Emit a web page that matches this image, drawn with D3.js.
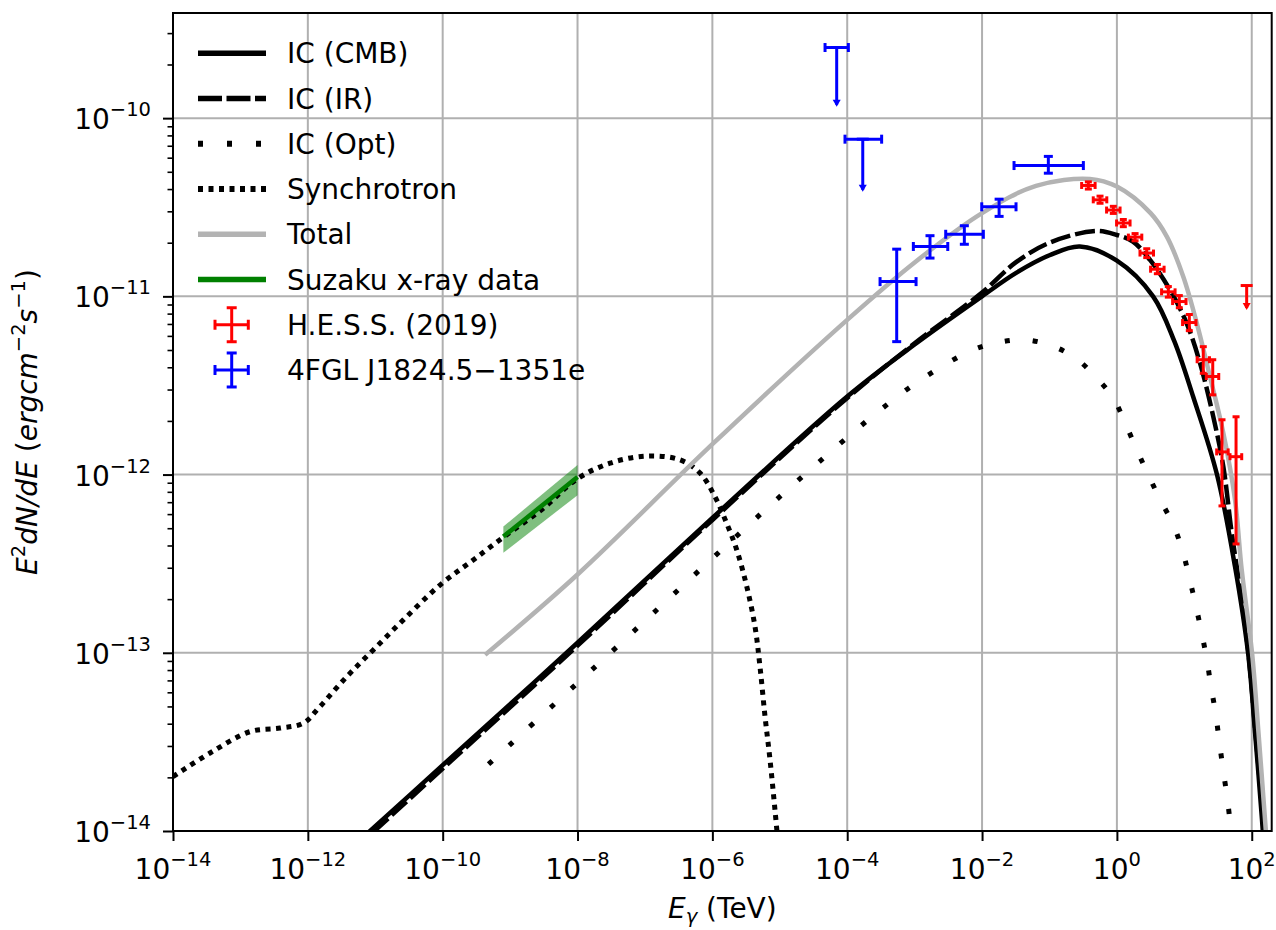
<!DOCTYPE html>
<html>
<head>
<meta charset="utf-8">
<script src="https://cdn.jsdelivr.net/npm/d3@7"></script>
<style>
  body { margin: 0; background: #fff; }
  text { font-family: "DejaVu Sans", sans-serif; fill: #000; }
</style>
</head>
<body>
<div id="chart"></div>
<script>
// ---- data (E in TeV, E^2 dN/dE in erg cm^-2 s^-1) ----
const cmbE = [5.0e-12, 1e-10, 1e-8, 1e-6, 1e-4, 1e-3, 1e-2, 3.16e-2, 0.1, 0.282, 1, 3.44, 7.08, 13.5, 30.5, 56.5, 88.1, 112, 142, 158];
const cmbF = [8.39e-15, 2.34e-14, 1.138e-13, 5.71e-13, 2.74e-12, 5.37e-12, 1.0e-11, 1.35e-11, 1.70e-11, 1.905e-11, 1.585e-11, 1.0e-11, 5.62e-12, 2.74e-12, 1.0e-12, 3.04e-13, 1.0e-13, 3.56e-14, 1.156e-14, 6.3e-15];

const irE = [5.0e-12, 1e-10, 1e-8, 1e-6, 1e-4, 1e-3, 1e-2, 3.16e-2, 0.1, 0.501, 1, 1.73, 3.10, 6.14, 10.8, 17.1, 26.9, 37.9, 50.5, 67.6, 88.1, 112, 145, 158];
const irF = [7.94e-15, 2.24e-14, 1.096e-13, 5.56e-13, 2.69e-12, 5.45e-12, 1.05e-11, 1.55e-11, 2.00e-11, 2.33e-11, 2.21e-11, 2.03e-11, 1.60e-11, 1.086e-11, 7.08e-12, 4.22e-12, 2.11e-12, 1.109e-12, 4.69e-13, 2.24e-13, 1.047e-13, 3.80e-14, 1.20e-14, 7.08e-15];

const optE = [4.79e-10, 3.14e-8, 1.01e-6, 1.68e-5, 2.90e-4, 1.35e-3, 7.03e-3, 1.74e-2, 4.34e-2, 0.110, 0.254, 0.501, 0.885, 1.36, 2.01, 2.92, 4.47, 6.87, 9.48, 11.9, 14.7, 17.9, 21.5, 24.9, 29.2, 33.0, 37.5, 43.0, 48.2, 52.5];
const optF = [2.37e-14, 1.007e-13, 3.40e-13, 8.95e-13, 2.26e-12, 3.48e-12, 4.97e-12, 5.51e-12, 5.70e-12, 5.27e-12, 4.45e-12, 3.48e-12, 2.69e-12, 1.90e-12, 1.36e-12, 9.95e-13, 7.14e-13, 5.22e-13, 3.70e-13, 2.62e-13, 1.86e-13, 1.315e-13, 9.25e-14, 6.46e-14, 4.54e-14, 3.18e-14, 2.23e-14, 1.56e-14, 1.096e-14, 8.3e-15];

const synE = [1e-14, 3.54e-14, 1.39e-13, 3.86e-13, 8.57e-13, 1.51e-12, 3.77e-12, 9.35e-12, 2.61e-11, 9.12e-11, 2.84e-10, 8.91e-10, 3.11e-9, 9.73e-9, 3.03e-8, 1.06e-7, 3.31e-7, 6.56e-7, 1.09e-6, 1.63e-6, 2.30e-6, 3.24e-6, 4.29e-6, 5.08e-6, 6.04e-6, 7.16e-6, 8.49e-6, 9.33e-6];
const synF = [2.02e-14, 2.74e-14, 3.61e-14, 3.78e-14, 4.03e-14, 4.99e-14, 7.34e-14, 1.038e-13, 1.53e-13, 2.40e-13, 3.32e-13, 4.59e-13, 6.47e-13, 9.42e-13, 1.159e-12, 1.27e-12, 1.21e-12, 1.02e-12, 7.53e-13, 5.33e-13, 3.78e-13, 2.35e-13, 1.40e-13, 8.38e-14, 4.39e-14, 2.51e-14, 1.31e-14, 8.9e-15];

const totE = [4.25e-10, 1e-8, 1e-6, 1e-4, 1e-3, 1e-2, 6.31e-2, 0.398, 1, 3.16, 5.48, 9.66, 15.3, 24.0, 37.9, 56.5, 71.0, 101, 126, 162, 178];
const totF = [9.73e-14, 2.75e-13, 1.48e-12, 7.38e-12, 1.55e-11, 2.93e-11, 4.17e-11, 4.56e-11, 4.13e-11, 2.93e-11, 2.17e-11, 1.29e-11, 7.08e-12, 3.55e-12, 1.71e-12, 7.21e-13, 2.92e-13, 1.0e-13, 3.55e-14, 1.0e-14, 6.3e-15];

const suzE = [7.94e-10, 1e-8];
const suzF = [4.49e-13, 9.68e-13];
const suzLo = [3.64e-13, 7.66e-13];
const suzHi = [5.11e-13, 1.13e-12];

// H.E.S.S. (2019): E, Elo, Ehi, F, Flo, Fhi
const hessE   = [0.377, 0.562, 0.885, 1.245, 1.86, 2.77, 3.98, 5.79, 8.43, 11.86, 19.1, 26.4, 36.2, 58.5];
const hessElo = [0.300, 0.446, 0.703, 0.989, 1.48, 2.20, 3.16, 4.60, 6.70, 9.42, 15.5, 21.2, 30.2, 47.6];
const hessEhi = [0.475, 0.708, 1.114, 1.567, 2.34, 3.49, 5.01, 7.29, 10.6, 14.9, 23.6, 32.4, 44.7, 71.0];
const hessF   = [4.19e-11, 3.48e-11, 3.05e-11, 2.58e-11, 2.15e-11, 1.75e-11, 1.42e-11, 1.06e-11, 9.35e-12, 7.13e-12, 4.41e-12, 3.55e-12, 1.34e-12, 1.26e-12];
const hessFlo = [4.00e-11, 3.33e-11, 2.92e-11, 2.46e-11, 2.05e-11, 1.65e-11, 1.34e-11, 0.99e-11, 8.63e-12, 6.42e-12, 3.70e-12, 2.80e-12, 6.67e-13, 4.08e-13];
const hessFhi = [4.39e-11, 3.65e-11, 3.20e-11, 2.70e-11, 2.25e-11, 1.85e-11, 1.51e-11, 1.135e-11, 1.01e-11, 7.91e-12, 5.22e-12, 4.41e-12, 2.03e-12, 2.11e-12];
const hessUlE = [84.1];
const hessUlF = [1.15e-11];
const hessUlEnd = [8.6e-12];

// 4FGL J1824.5-1351e
const fglE   = [5.42e-4, 1.69e-3, 5.46e-3, 1.79e-2, 9.62e-2];
const fglElo = [3.07e-4, 9.57e-4, 2.89e-3, 9.89e-3, 2.98e-2];
const fglEhi = [1.05e-3, 3.10e-3, 1.045e-2, 3.19e-2, 0.318];
const fglF   = [1.21e-11, 1.905e-11, 2.23e-11, 3.18e-11, 5.42e-11];
const fglFlo = [5.57e-12, 1.64e-11, 1.96e-11, 2.81e-11, 4.91e-11];
const fglFhi = [1.84e-11, 2.19e-11, 2.49e-11, 3.51e-11, 6.10e-11];
const fglUlE   = [6.98e-5, 1.70e-4];
const fglUlElo = [4.69e-5, 9.27e-5];
const fglUlEhi = [1.04e-4, 3.24e-4];
const fglUlF   = [2.49e-10, 7.62e-11];
const fglUlEnd = [1.19e-10, 3.96e-11];

const xTickExp = [-14, -12, -10, -8, -6, -4, -2, 0, 2];
const yTickExp = [-14, -13, -12, -11, -10];

// ---- layout ----
const width = 1276, height = 930;
const pL = 173, pR = 1271.7, pT = 13, pB = 831;

const svg = d3.select("#chart").append("svg")
  .attr("width", width).attr("height", height);

const x = d3.scaleLog().domain([1e-14, 1.977e2]).range([pL, pR]);
const y = d3.scaleLog().domain([1e-14, 3.89e-10]).range([pB, pT]);

svg.append("defs").append("clipPath").attr("id", "plot-clip")
  .append("rect").attr("x", pL).attr("y", pT)
  .attr("width", pR - pL).attr("height", pB - pT);

// grid
const xTicks = xTickExp.map((e) => Math.pow(10, e));
const yTicks = yTickExp.map((e) => Math.pow(10, e));
const grid = svg.append("g").attr("stroke", "#b0b0b0").attr("stroke-width", 2);
grid.selectAll(".gx").data(xTicks).enter().append("line")
  .attr("x1", (d) => x(d)).attr("x2", (d) => x(d))
  .attr("y1", pT).attr("y2", pB);
grid.selectAll(".gy").data(yTicks).enter().append("line")
  .attr("x1", pL).attr("x2", pR)
  .attr("y1", (d) => y(d)).attr("y2", (d) => y(d));

const plot = svg.append("g").attr("clip-path", "url(#plot-clip)");

// Suzaku band
const band = d3.area()
  .x((d) => x(d[0])).y0((d) => y(d[1])).y1((d) => y(d[2]));
plot.append("path")
  .datum(suzE.map((e, i) => [e, suzLo[i], suzHi[i]]))
  .attr("d", band).attr("fill", "#008000").attr("fill-opacity", 0.5);

const line = d3.line().x((d) => x(d[0])).y((d) => y(d[1])).curve(d3.curveCatmullRom.alpha(0.5));
const zip = (a, b) => a.map((v, i) => [v, b[i]]);

const series = [
  { name: "IC (CMB)", E: cmbE, F: cmbF, color: "#000", dash: null, lw: 4.5, legDash: null },
  { name: "IC (IR)", E: irE, F: irF, color: "#000", dash: "20,5", lw: 4.5, legDash: "24,4.5" },
  { name: "IC (Opt)", E: optE, F: optF, color: "#000", dash: "5,23", lw: 5, legDash: "5,24" },
  { name: "Synchrotron", E: synE, F: synF, color: "#000", dash: "5,5.5", lw: 5, legDash: "5,5.5" },
  { name: "Total", E: totE, F: totF, color: "#b3b3b3", dash: null, lw: 4.5, legDash: null },
];

series.forEach((s) => {
  plot.append("path")
    .datum(zip(s.E, s.F))
    .attr("d", line)
    .attr("fill", "none")
    .attr("stroke", s.color)
    .attr("stroke-width", s.lw)
    .attr("stroke-dasharray", s.dash);
});

plot.append("path")
  .datum(zip(suzE, suzF))
  .attr("d", d3.line().x((d) => x(d[0])).y((d) => y(d[1])))
  .attr("stroke", "#008000").attr("stroke-width", 4.5).attr("fill", "none");

// error bars
function errorbar(g, color, cap, E, Elo, Ehi, F, Flo, Fhi) {
  E.forEach((e, i) => {
    const cx = x(e), cy = y(F[i]);
    const x0 = x(Elo[i]), x1 = x(Ehi[i]);
    const y0 = y(Flo[i]), y1 = y(Fhi[i]);
    const segs = [
      [x0, cy, x1, cy], [cx, y0, cx, y1],
      [x0, cy - cap, x0, cy + cap], [x1, cy - cap, x1, cy + cap],
      [cx - cap, y0, cx + cap, y0], [cx - cap, y1, cx + cap, y1],
    ];
    segs.forEach((s) => g.append("line")
      .attr("x1", s[0]).attr("y1", s[1]).attr("x2", s[2]).attr("y2", s[3])
      .attr("stroke", color).attr("stroke-width", 3));
  });
}
function upperlimit(g, color, cap, E, Elo, Ehi, F, Fend) {
  E.forEach((e, i) => {
    const cx = x(e), cy = y(F[i]), ye = y(Fend[i]);
    const segs = [[cx, cy, cx, ye], [cx - 6, cy, cx + 6, cy]];
    if (Elo) {
      const x0 = x(Elo[i]), x1 = x(Ehi[i]);
      segs.push([x0, cy, x1, cy], [x0, cy - cap, x0, cy + cap], [x1, cy - cap, x1, cy + cap]);
    }
    segs.forEach((s) => g.append("line")
      .attr("x1", s[0]).attr("y1", s[1]).attr("x2", s[2]).attr("y2", s[3])
      .attr("stroke", color).attr("stroke-width", 3));
    g.append("path")
      .attr("d", `M${cx - 4},${ye - 5}L${cx + 4},${ye - 5}L${cx},${ye + 2}Z`)
      .attr("fill", color);
  });
}

const eb = svg.append("g");
errorbar(eb, "#ff0000", 3.5, hessE, hessElo, hessEhi, hessF, hessFlo, hessFhi);
upperlimit(eb, "#ff0000", 3.5, hessUlE, null, null, hessUlF, hessUlEnd);
errorbar(eb, "#0000ff", 4.5, fglE, fglElo, fglEhi, fglF, fglFlo, fglFhi);
upperlimit(eb, "#0000ff", 4.5, fglUlE, fglUlElo, fglUlEhi, fglUlF, fglUlEnd);

// axes
const minorY = [];
for (let e = -14; e <= -10; e++) {
  for (let k = 2; k <= 9; k++) {
    const v = k * Math.pow(10, e);
    if (v <= y.domain()[1]) minorY.push(v);
  }
}
const xAxis = svg.append("g").attr("transform", `translate(0,${pB})`)
  .call(d3.axisBottom(x).tickValues(xTicks).tickSize(10).tickFormat(""));
const yAxis = svg.append("g").attr("transform", `translate(${pL},0)`)
  .call(d3.axisLeft(y).tickValues(yTicks).tickSize(10).tickFormat(""));
const yMinor = svg.append("g").attr("transform", `translate(${pL},0)`)
  .call(d3.axisLeft(y).tickValues(minorY).tickSize(5.5).tickFormat(""));
[xAxis, yAxis, yMinor].forEach((a) => {
  a.select(".domain").remove();
  a.selectAll(".tick line").attr("stroke", "#000").attr("stroke-width", 2);
});
yMinor.selectAll(".tick line").attr("stroke-width", 1.6);

svg.append("rect")
  .attr("x", pL).attr("y", pT)
  .attr("width", pR - pL).attr("height", pB - pT)
  .attr("fill", "none").attr("stroke", "#000").attr("stroke-width", 2);

function powLabel(t, exp, shift) {
  t.append("tspan").text("10");
  t.append("tspan").attr("font-size", 19.5).attr("dy", -shift)
    .text(exp < 0 ? "\u2212" + Math.abs(exp) : String(exp));
}
xTickExp.forEach((e) => {
  const t = svg.append("text")
    .attr("x", x(Math.pow(10, e))).attr("y", 879)
    .attr("text-anchor", "middle").attr("font-size", 28);
  powLabel(t, e, 13);
});
yTickExp.forEach((e) => {
  const t = svg.append("text")
    .attr("x", 151).attr("y", y(Math.pow(10, e)) + 11)
    .attr("text-anchor", "end").attr("font-size", 28);
  powLabel(t, e, 13);
});

// axis labels
const xl = svg.append("text").attr("x", (pL + pR) / 2).attr("y", 918)
  .attr("text-anchor", "middle").attr("font-size", 28);
xl.append("tspan").attr("font-style", "italic").text("E");
xl.append("tspan").attr("font-style", "italic").attr("font-size", 19.5).attr("dy", 5).text("\u03b3");
xl.append("tspan").attr("dy", -5).text(" (TeV)");

const yl = svg.append("text")
  .attr("transform", `translate(37,${(pT + pB) / 2}) rotate(-90)`)
  .attr("text-anchor", "middle").attr("font-size", 28).attr("font-style", "italic");
yl.append("tspan").text("E");
yl.append("tspan").attr("font-size", 19.5).attr("dy", -12).attr("font-style", "normal").text("2");
yl.append("tspan").attr("dy", 12).text("dN/dE ");
yl.append("tspan").attr("font-style", "normal").text("(");
yl.append("tspan").text("ergcm");
yl.append("tspan").attr("font-size", 19.5).attr("dy", -12).attr("font-style", "normal").text("\u22122");
yl.append("tspan").attr("dy", 12).text("s");
yl.append("tspan").attr("font-size", 19.5).attr("dy", -12).attr("font-style", "normal").text("\u22121");
yl.append("tspan").attr("dy", 12).attr("font-style", "normal").text(")");

// legend
const legRow0 = 53.3, legStep = 45.24;
const leg = svg.append("g");
const legendItems = series.map((s) => ({ name: s.name, type: "line", color: s.color, dash: s.legDash, lw: s.lw }))
  .concat([
    { name: "Suzaku x-ray data", type: "line", color: "#008000", dash: null, lw: 4.5 },
    { name: "H.E.S.S. (2019)", type: "err", color: "#ff0000" },
    { name: "4FGL J1824.5\u22121351e", type: "err", color: "#0000ff" },
  ]);
legendItems.forEach((it, i) => {
  const cy = legRow0 + i * legStep;
  if (it.type === "line") {
    leg.append("line").attr("x1", 198).attr("x2", 266).attr("y1", cy).attr("y2", cy)
      .attr("stroke", it.color).attr("stroke-width", it.lw + 1)
      .attr("stroke-dasharray", it.dash);
  } else {
    const cx = 231.7, c = 5;
    [[215, cy, 248.3, cy], [cx, cy - 17, cx, cy + 17],
     [215, cy - c, 215, cy + c], [248.3, cy - c, 248.3, cy + c],
     [cx - c, cy - 17, cx + c, cy - 17], [cx - c, cy + 17, cx + c, cy + 17]]
      .forEach((s) => leg.append("line")
        .attr("x1", s[0]).attr("y1", s[1]).attr("x2", s[2]).attr("y2", s[3])
        .attr("stroke", it.color).attr("stroke-width", 3));
  }
  leg.append("text").attr("x", 287).attr("y", cy + 10).attr("font-size", 28).text(it.name);
});
</script>
</body>
</html>
